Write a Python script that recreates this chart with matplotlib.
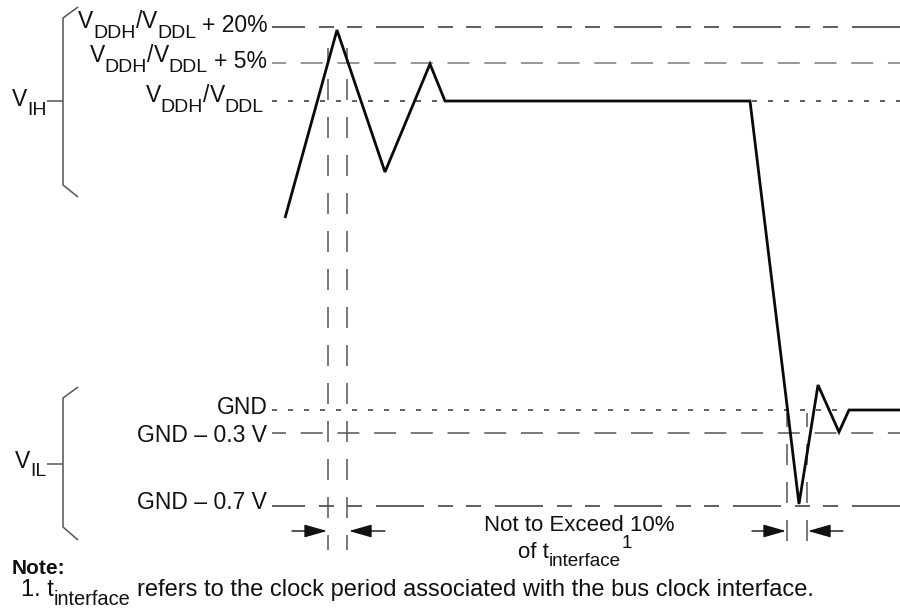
import matplotlib
matplotlib.use('Agg')
import matplotlib.pyplot as plt

plt.rcParams['font.family'] = ['Liberation Sans', 'DejaVu Sans']
plt.rcParams['lines.scale_dashes'] = False
plt.rcParams['lines.solid_capstyle'] = 'butt'

# ---------------- data (pixel-space schematic coordinates) ----------------
level_y = [27, 63, 101, 410, 433, 506]          # +20%, +5%, VDDH, GND, GND-0.3, GND-0.7
level_style = ['lss', 'dash', 'dot', 'dot', 'dash', 'lss']
level_color = ['#333333', '#7a7a7a', '#333333', '#333333', '#555555', '#333333']

wave_x = [285, 337, 385, 430, 445, 750, 799, 818, 839, 849, 900]
wave_y = [218, 30, 172, 64, 101, 101, 504, 385, 432, 410, 410]

vline_x = [328, 347, 787, 807]
vline_top = [48, 48, 413, 413]
vline_bot = [550, 550, 551, 551]

arrow_y = 531
arrow_pairs = [(292, 327), (385, 349), (752, 786), (843, 808)]  # (tail, head)

PT = 0.72  # points per pixel at 100 dpi

fig = plt.figure(figsize=(9, 6.13), dpi=100)
ax = fig.add_axes([0, 0, 1, 1])
ax.set_xlim(0, 900)
ax.set_ylim(613, 0)
ax.axis('off')
R = fig.canvas.get_renderer()

TXT = '#111111'


def width(s, size, weight='normal'):
    t = ax.text(0, 0, s, fontsize=size, fontweight=weight)
    w = t.get_window_extent(R).width
    t.remove()
    return w


def rich(x, y, runs, size, ha='left', weight='normal'):
    pos = []
    cur = 0.0
    for s, sc, dy, gap in runs:
        cur += gap
        w = width(s, size * sc, weight)
        pos.append((cur, s, sc, dy))
        cur += w
    if ha == 'right':
        x0 = x - cur
    elif ha == 'center':
        x0 = x - cur / 2
    else:
        x0 = x
    for cx, s, sc, dy in pos:
        ax.text(x0 + cx, y + dy, s, fontsize=size * sc, va='baseline', ha='left',
                color=TXT, fontweight=weight)


def pattern(kind):
    if kind == 'lss':
        return [48, 14, 15, 13, 15, 14], 15
    if kind == 'dash':
        return [22, 14.7], 8
    return [5, 11], 0


# ---------------- horizontal reference levels ----------------
for y, kind, col in zip(level_y, level_style, level_color):
    pat, off = pattern(kind)
    ax.plot([272, 900], [y, y], color=col, lw=1.1,
            linestyle=(off * PT, [p * PT for p in pat]), dash_capstyle='butt')

# ---------------- vertical timing lines ----------------
for x, t, b in zip(vline_x, vline_top, vline_bot):
    ax.plot([x, x], [t, b], color='#555555', lw=1.1,
            linestyle=(7 * PT, [21 * PT, 17 * PT]), dash_capstyle='butt')

# ---------------- waveform ----------------
ax.plot(wave_x, wave_y, color='#0a0a0a', lw=2.0, solid_joinstyle='miter', zorder=5)

# ---------------- arrows ----------------
for tail, head in arrow_pairs:
    ax.annotate('', xy=(head, arrow_y), xytext=(tail, arrow_y),
                arrowprops=dict(arrowstyle='-|>,head_length=1.4,head_width=0.4',
                                color='#111111', lw=1.0, shrinkA=0, shrinkB=0,
                                mutation_scale=10))

# ---------------- braces ----------------
BR = '#555555'
ax.plot([78, 63, 63, 78], [7, 18, 185, 197], color=BR, lw=1.1)
ax.plot([47, 63], [101, 101], color=BR, lw=1.1)
ax.plot([78, 63, 63, 78], [387, 398, 527, 540], color=BR, lw=1.1)
ax.plot([47, 63], [464, 464], color=BR, lw=1.1)

# ---------------- labels ----------------
S = 16.5
SUB = 0.85
rich(268, 28, [('V', 1, 0, 0), ('DDH', SUB, 10, 0), ('/', 1, 0, 0), ('V', 1, 0, 0),
               ('DDL', SUB, 10, 0), ('+ 20%', 1, 4.5, 6)], S, ha='right')
rich(267, 62.5, [('V', 1, 0, 0), ('DDH', SUB, 10, 0), ('/', 1, 0, 0), ('V', 1, 0, 0),
                 ('DDL', SUB, 10, 0), ('+ 5%', 1, 5, 6)], S, ha='right')
rich(264, 101.5, [('V', 1, 0, 0), ('DDH', SUB, 10, 0), ('/', 1, 0, 0), ('V', 1, 0, 0),
                  ('DDL', SUB, 10, 0)], S, ha='right')

G = 16.5
ax.text(268, 413.5, 'GND', fontsize=G, ha='right', va='baseline', color=TXT)
ax.text(267, 441.5, 'GND – 0.3 V', fontsize=G, ha='right', va='baseline', color=TXT)
ax.text(267, 509, 'GND – 0.7 V', fontsize=G, ha='right', va='baseline', color=TXT)

rich(12, 106, [('V', 1, 0, 0), ('IH', SUB, 9, 0)], S)
rich(15, 467.5, [('V', 1, 0, 0), ('IL', SUB, 9, 0)], S)

ax.text(579, 531, 'Not to Exceed 10%', fontsize=16, ha='center', va='baseline', color=TXT)
rich(518, 558, [('of t', 1, 0, 0), ('interface', SUB, 8.5, 0), ('1', SUB, -10, 1)], 16)

ax.text(12, 574, 'Note:', fontsize=15, fontweight='bold', ha='left', va='baseline', color=TXT)
rich(21, 596, [('1. t', 1, 0, 0), ('interface', SUB, 9, 0),
               ('refers to the clock period associated with the bus clock interface.', 1, 0, 6)], 17)

fig.savefig('out.png', dpi=100)
